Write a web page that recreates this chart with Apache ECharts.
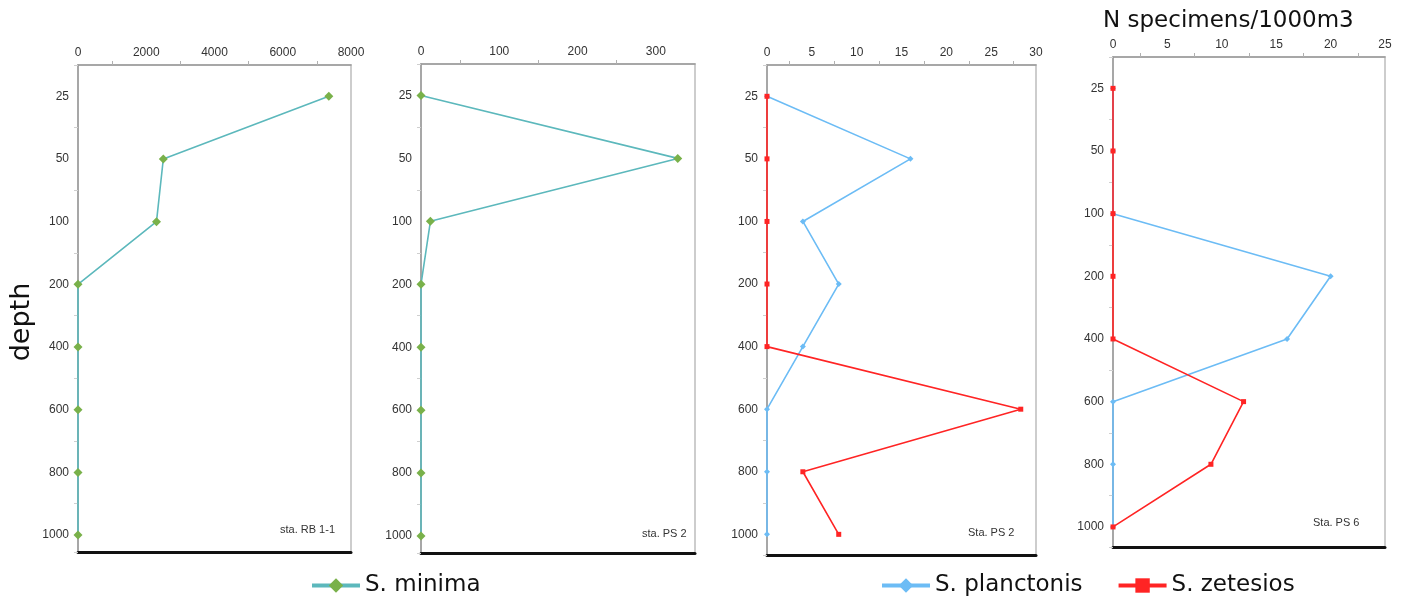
<!DOCTYPE html>
<html>
<head>
<meta charset="utf-8">
<script src="https://cdn.jsdelivr.net/npm/echarts@6/dist/echarts.min.js"></script>
<style>
html,body{margin:0;padding:0;background:#fff;}
#chart{width:1408px;height:598px;}
</style>
</head>
<body>
<div id="chart"></div>
<script>
// ---- data ----
const depthLabels = ['25', '50', '100', '200', '400', '600', '800', '1000'];
const p1Minima = [7350, 2500, 2300, 0, 0, 0, 0, 0];
const p2Minima = [0, 328, 12, 0, 0, 0, 0, 0];
const p3Planctonis = [0, 16, 4, 8, 4, 0, 0, 0];
const p3Zetesios = [0, 0, 0, 0, 0, 28.3, 4, 8];
const p4Planctonis = [0, 0, 0, 20, 16, 0, 0, 0];
const p4Zetesios = [0, 0, 0, 0, 0, 12, 9, 0];
const xMin = [0, 0, 0, 0];
const xMax = [8000, 350, 30, 25];
const xStep = [2000, 100, 5, 5];
const stationLabels = ['sta. RB 1-1', 'sta. PS 2', 'Sta. PS 2', 'Sta. PS 6'];
const unitTitle = 'N specimens/1000m3';
const depthTitle = 'depth';

// ---- layout / style ----
const grids = [
  {left: 78, top: 65, width: 273, height: 487},
  {left: 421, top: 64, width: 274, height: 489},
  {left: 767, top: 65, width: 269, height: 490},
  {left: 1113, top: 57, width: 272, height: 490}
];
const yMin = -0.5;
const yMax = [7.27, 7.27, 7.33, 7.32];
const stationPos = [[280, 524], [642, 528], [968, 527], [1313, 517]];
const C_MIN_LINE = '#5cb8bc', C_MIN_PT = '#79b14a', C_PLA = '#6cbcf5', C_ZET = '#ff2424';
const labelFont = 'Liberation Sans';

const xAxes = [], yAxes = [];
grids.forEach((g, i) => {
  xAxes.push({
    type: 'value', gridIndex: i, position: 'top',
    min: xMin[i], max: xMax[i], interval: xStep[i],
    axisLine: {show: true, onZero: false, lineStyle: {color: '#9a9a9a', width: 1.5}},
    axisTick: {show: false},
    minorTick: {show: true, splitNumber: 2, length: 4, lineStyle: {color: '#b0b0b0', width: 1}},
    splitLine: {show: false}, minorSplitLine: {show: false},
    axisLabel: {color: '#333', fontSize: 12, fontFamily: labelFont, margin: 6,
      formatter: v => (Math.abs(v / xStep[i] - Math.round(v / xStep[i])) < 1e-6 ? String(v) : '')}
  });
  xAxes.push({
    type: 'value', gridIndex: i, position: 'bottom',
    min: xMin[i], max: xMax[i],
    axisLine: {show: true, onZero: false, lineStyle: {color: '#111', width: 3}},
    axisTick: {show: false}, axisLabel: {show: false}, splitLine: {show: false}
  });
  yAxes.push({
    type: 'value', gridIndex: i, position: 'left', inverse: true,
    min: yMin, max: yMax[i], interval: 0.5,
    axisLine: {show: true, onZero: false, lineStyle: {color: '#9a9a9a', width: 1.5}},
    axisTick: {show: false}, splitLine: {show: false},
    axisLabel: {color: '#333', fontSize: 12, fontFamily: labelFont, margin: 9,
      formatter: v => {
        const r = Math.round(v);
        return (Math.abs(v - r) < 1e-6 && r >= 0 && r < depthLabels.length) ? depthLabels[r] : '';
      }}
  });
  yAxes.push({
    type: 'value', gridIndex: i, position: 'left', inverse: true,
    min: yMin, max: yMax[i], interval: 1,
    axisLine: {show: false, onZero: false}, axisLabel: {show: false}, splitLine: {show: false},
    axisTick: {show: true, length: 4, lineStyle: {color: '#cfcfcf', width: 1}}
  });
});

const toPts = arr => arr.map((v, k) => [v, k]);
function mk(name, data, i, kind) {
  const s = {
    name: name, type: 'line', xAxisIndex: 2 * i, yAxisIndex: 2 * i,
    data: toPts(data), animation: false, z: 3
  };
  if (kind === 'min') {
    Object.assign(s, {symbol: 'diamond', symbolSize: 9,
      lineStyle: {color: C_MIN_LINE, width: 1.6}, itemStyle: {color: C_MIN_PT}});
  } else if (kind === 'pla') {
    Object.assign(s, {symbol: 'diamond', symbolSize: 6,
      lineStyle: {color: C_PLA, width: 1.6}, itemStyle: {color: C_PLA}});
  } else {
    Object.assign(s, {symbol: 'rect', symbolSize: 5, z: 4,
      lineStyle: {color: C_ZET, width: 1.6}, itemStyle: {color: C_ZET}});
  }
  return s;
}

const series = [
  mk('S. minima', p1Minima, 0, 'min'),
  mk('S. minima', p2Minima, 1, 'min'),
  mk('S. planctonis', p3Planctonis, 2, 'pla'),
  mk('S. zetesios', p3Zetesios, 2, 'zet'),
  mk('S. planctonis', p4Planctonis, 3, 'pla'),
  mk('S. zetesios', p4Zetesios, 3, 'zet')
];

const titles = stationLabels.map((t, i) => ({
  text: t, left: stationPos[i][0], top: stationPos[i][1], padding: 0,
  textStyle: {fontSize: 11, fontWeight: 'normal', color: '#333', fontFamily: labelFont}
}));
titles.push({
  text: unitTitle, left: 1103, top: 10, padding: 0,
  textStyle: {fontSize: 23, fontWeight: 'normal', color: '#111', fontFamily: 'DejaVu Sans'}
});

const legendCommon = {
  top: 574, itemWidth: 48, itemHeight: 18, itemGap: 34, padding: 0,
  lineStyle: {width: 4},
  textStyle: {fontSize: 23, color: '#111', fontFamily: 'DejaVu Sans', padding: [0, 0, 0, 0]}
};

const option = {
  backgroundColor: '#fff',
  animation: false,
  title: titles,
  grid: grids.map(g => Object.assign({show: true, borderColor: '#bdbdbd', borderWidth: 1.5, backgroundColor: 'transparent'}, g)),
  xAxis: xAxes,
  yAxis: yAxes,
  legend: [
    Object.assign({}, legendCommon, {left: 310, data: ['S. minima']}),
    Object.assign({}, legendCommon, {left: 880, data: ['S. planctonis', 'S. zetesios']})
  ],
  graphic: [{
    type: 'text', x: 22, y: 322, rotation: Math.PI / 2,
    style: {text: depthTitle, fontSize: 27, fontFamily: 'DejaVu Sans', fill: '#111',
      textAlign: 'center', textVerticalAlign: 'middle'}
  }],
  series: series
};

const chart = echarts.init(document.getElementById('chart'), null, {renderer: 'canvas'});
chart.setOption(option);
</script>
</body>
</html>
